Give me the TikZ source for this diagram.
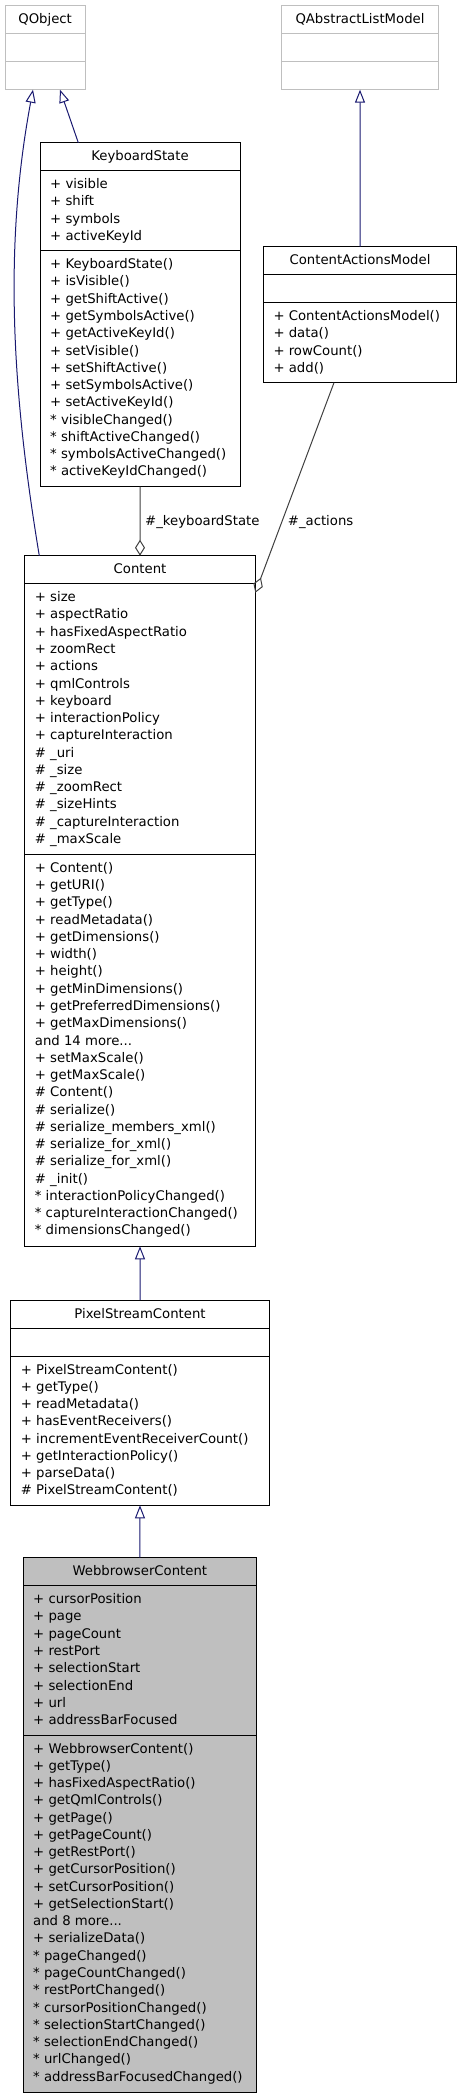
\documentclass[tikz,border=0pt]{standalone}
\usepackage{fontspec}
\newfontfamily\umlfam{DejaVu Sans}
\newcommand\umlfont{\umlfam\fontsize{13.3}{17.33}\selectfont}
\newcommand\fst{\rule{0pt}{12bp}}
\usetikzlibrary{arrows.meta,calc}
\definecolor{navyedge}{HTML}{191970}
\definecolor{greyseventyfive}{HTML}{BFBFBF}
\definecolor{edgegray}{HTML}{404040}
\begin{document}
\begin{tikzpicture}[x=1bp,y=-1bp,
  cls/.style={draw=black, line width=1bp, fill=white, inner sep=0pt, outer sep=0pt, anchor=north west},
  extcls/.style={cls, draw=greyseventyfive},
  sepline/.style={draw=black, line width=1bp},
  extsep/.style={draw=greyseventyfive, line width=1bp},
  ttl/.style={inner sep=0pt, anchor=base, font=\umlfont},
  txt/.style={inner sep=0pt, anchor=north west, align=left, font=\umlfont},
  lbl/.style={inner sep=0pt, anchor=base west, font=\umlfont},
  inh/.style={draw=navyedge, line width=1bp, -{Triangle[open, length=13bp, width=10bp]}},
  agg/.style={draw=edgegray, line width=1bp, -{Diamond[open, length=16bp, width=10bp]}}
]
\useasboundingbox (0,0) rectangle (461,2099);

% ---------- QObject ----------
\node[extcls, minimum width=80.3bp, minimum height=84bp] (qo) at (5,5.7) {};
\draw[extsep] ($(qo.north west)+(0,28)$) -- ($(qo.north east)+(0,28)$);
\draw[extsep] ($(qo.north west)+(0,56)$) -- ($(qo.north east)+(0,56)$);
\node[ttl] (qo-t) at ($(qo.north)+(0,18)$) {QObject};

% ---------- QAbstractListModel ----------
\node[extcls, minimum width=157.4bp, minimum height=84bp] (qal) at (281.3,5.7) {};
\draw[extsep] ($(qal.north west)+(0,28)$) -- ($(qal.north east)+(0,28)$);
\draw[extsep] ($(qal.north west)+(0,56)$) -- ($(qal.north east)+(0,56)$);
\node[ttl] (qal-t) at ($(qal.north)+(0,18)$) {QAbstractListModel};

% ---------- KeyboardState ----------
\node[cls, minimum width=200bp, minimum height=344bp] (ks) at (40,142.7) {};
\coordinate (ks-s1) at ($(ks.north west)+(0,28)$);
\coordinate (ks-s2) at ($(ks.north west)+(0,108.02)$);
\draw[sepline] (ks-s1) -- (ks-s1 -| ks.east);
\draw[sepline] (ks-s2) -- (ks-s2 -| ks.east);
\node[ttl] (ks-t) at ($(ks.north)+(0,18)$) {KeyboardState};
\node[txt] (ks-a) at ($(ks-s1)+(10,5.8)$) {\fst+ visible\\+ shift\\+ symbols\\+ activeKeyId};
\node[txt] (ks-m) at ($(ks-s2)+(10,5.8)$) {\fst+ KeyboardState()\\+ isVisible()\\+ getShiftActive()\\+ getSymbolsActive()\\+ getActiveKeyId()\\+ setVisible()\\+ setShiftActive()\\+ setSymbolsActive()\\+ setActiveKeyId()\\* visibleChanged()\\* shiftActiveChanged()\\* symbolsActiveChanged()\\* activeKeyIdChanged()};

% ---------- ContentActionsModel ----------
\node[cls, minimum width=193.4bp, minimum height=136bp] (cam) at (263.3,246.7) {};
\coordinate (cam-s1) at ($(cam.north west)+(0,28)$);
\coordinate (cam-s2) at ($(cam.north west)+(0,56)$);
\draw[sepline] (cam-s1) -- (cam-s1 -| cam.east);
\draw[sepline] (cam-s2) -- (cam-s2 -| cam.east);
\node[ttl] (cam-t) at ($(cam.north)+(0,18)$) {ContentActionsModel};
\node[txt] (cam-m) at ($(cam-s2)+(10,5.8)$) {\fst+ ContentActionsModel()\\+ data()\\+ rowCount()\\+ add()};

% ---------- Content ----------
\node[cls, minimum width=230.6bp, minimum height=690.6bp] (ct) at (24.7,555.7) {};
\coordinate (ct-s1) at ($(ct.north west)+(0,28)$);
\coordinate (ct-s2) at ($(ct.north west)+(0,298.65)$);
\draw[sepline] (ct-s1) -- (ct-s1 -| ct.east);
\draw[sepline] (ct-s2) -- (ct-s2 -| ct.east);
\node[ttl] (ct-t) at ($(ct.north)+(0,18)$) {Content};
\node[txt] (ct-a) at ($(ct-s1)+(10,5.8)$) {\fst+ size\\+ aspectRatio\\+ hasFixedAspectRatio\\+ zoomRect\\+ actions\\+ qmlControls\\+ keyboard\\+ interactionPolicy\\+ captureInteraction\\\# \_uri\\\# \_size\\\# \_zoomRect\\\# \_sizeHints\\\# \_captureInteraction\\\# \_maxScale};
\node[txt] (ct-m) at ($(ct-s2)+(10,5.8)$) {\fst+ Content()\\+ getURI()\\+ getType()\\+ readMetadata()\\+ getDimensions()\\+ width()\\+ height()\\+ getMinDimensions()\\+ getPreferredDimensions()\\+ getMaxDimensions()\\and 14 more...\\+ setMaxScale()\\+ getMaxScale()\\\# Content()\\\# serialize()\\\# serialize\_members\_xml()\\\# serialize\_for\_xml()\\\# serialize\_for\_xml()\\\# \_init()\\* interactionPolicyChanged()\\* captureInteractionChanged()\\* dimensionsChanged()};

% ---------- PixelStreamContent ----------
\node[cls, minimum width=258.6bp, minimum height=205.3bp] (psc) at (10.7,1300) {};
\coordinate (psc-s1) at ($(psc.north west)+(0,28)$);
\coordinate (psc-s2) at ($(psc.north west)+(0,56)$);
\draw[sepline] (psc-s1) -- (psc-s1 -| psc.east);
\draw[sepline] (psc-s2) -- (psc-s2 -| psc.east);
\node[ttl] (psc-t) at ($(psc.north)+(0,18)$) {PixelStreamContent};
\node[txt] (psc-m) at ($(psc-s2)+(10,5.8)$) {\fst+ PixelStreamContent()\\+ getType()\\+ readMetadata()\\+ hasEventReceivers()\\+ incrementEventReceiverCount()\\+ getInteractionPolicy()\\+ parseData()\\\# PixelStreamContent()};

% ---------- WebbrowserContent ----------
\node[cls, fill=greyseventyfive, minimum width=233.7bp, minimum height=534.6bp] (wbc) at (23,1557.7) {};
\coordinate (wbc-s1) at ($(wbc.north west)+(0,28)$);
\coordinate (wbc-s2) at ($(wbc.north west)+(0,177.34)$);
\draw[sepline] (wbc-s1) -- (wbc-s1 -| wbc.east);
\draw[sepline] (wbc-s2) -- (wbc-s2 -| wbc.east);
\node[ttl] (wbc-t) at ($(wbc.north)+(0,18)$) {WebbrowserContent};
\node[txt] (wbc-a) at ($(wbc-s1)+(10,5.8)$) {\fst+ cursorPosition\\+ page\\+ pageCount\\+ restPort\\+ selectionStart\\+ selectionEnd\\+ url\\+ addressBarFocused};
\node[txt] (wbc-m) at ($(wbc-s2)+(10,5.8)$) {\fst+ WebbrowserContent()\\+ getType()\\+ hasFixedAspectRatio()\\+ getQmlControls()\\+ getPage()\\+ getPageCount()\\+ getRestPort()\\+ getCursorPosition()\\+ setCursorPosition()\\+ getSelectionStart()\\and 8 more...\\+ serializeData()\\* pageChanged()\\* pageCountChanged()\\* restPortChanged()\\* cursorPositionChanged()\\* selectionStartChanged()\\* selectionEndChanged()\\* urlChanged()\\* addressBarFocusedChanged()};

% ---------- connectors ----------
\draw[inh] ($(ks.north west)+(38.3,0)$) -- ($(qo.south west)+(55,0)$);
\draw[inh] ($(ct.north west)+(14.6,0)$) .. controls (12.8,396) and (3,250) .. ($(qo.south west)+(28,0)$);
\draw[inh] (cam.north) -- (qal.south);
\draw[inh] (psc.north) -- (ct.south);
\draw[inh] (wbc.north) -- (psc.south);
\draw[agg] (ks.south) -- (ct.north);
\draw[agg] ($(cam.south west)+(70.7,0)$) -- ($(ct.north east)+(0,37)$);
\node[lbl] (l-ks) at (145,525) {\#\_keyboardState};
\node[lbl] (l-act) at (287.7,525) {\#\_actions};
\end{tikzpicture}
\end{document}
